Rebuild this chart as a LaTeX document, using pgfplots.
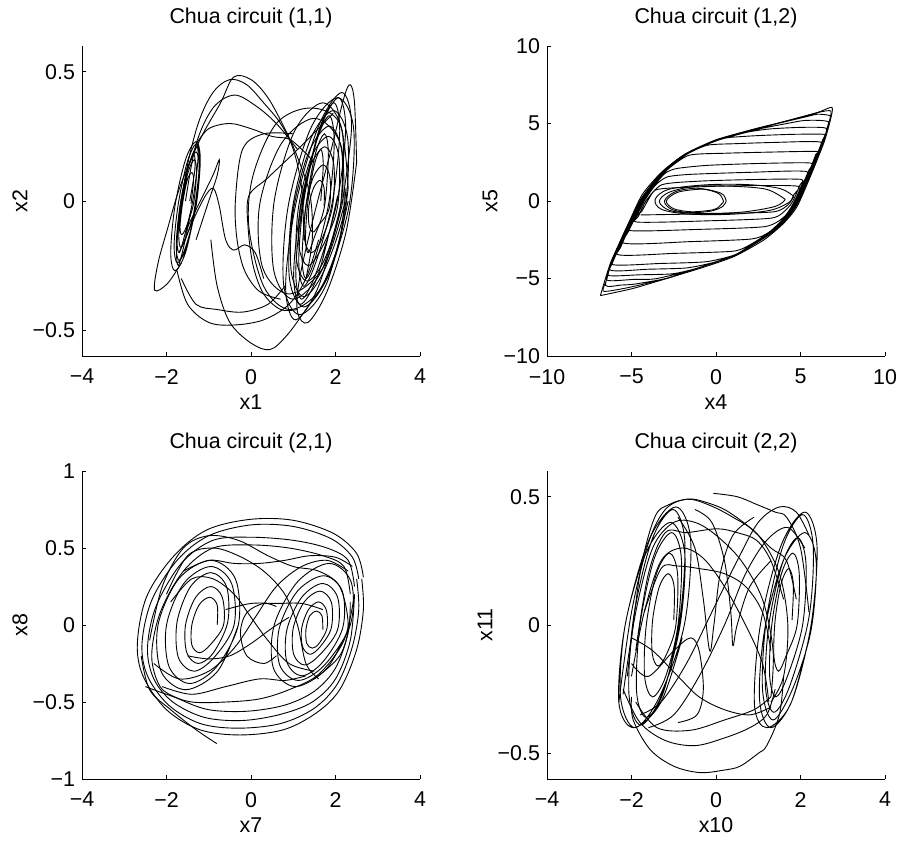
\documentclass[border=0pt]{standalone}
\usepackage{fontspec}
\setmainfont{Liberation Sans}
\usepackage{pgfplots}
\pgfplotsset{compat=1.18}
\newcommand{\fsz}{\fontsize{10.7}{12.8}\selectfont}

\pgfplotsset{
  chua/.style={
    scale only axis, width=169pt,
    axis x line*=bottom, axis y line*=left,
    axis line style={-, line width=0.4pt},
    tick align=inside, major tick length=1.8pt,
    tick style={black, line width=0.4pt},
    every axis title/.style={at={(0.5,1)}, anchor=center, yshift=14pt, font=\fsz},
    every axis x label/.style={at={(axis description cs:0.5,0)}, anchor=center, yshift=-23pt, font=\fsz},
    every axis y label/.style={at={(axis description cs:-0.1834,0.5)}, anchor=center, rotate=90, font=\fsz},
    ticklabel style={font=\fsz},
    x tick label style={yshift=-3pt},
  },
  traj/.style={black, line width=0.45pt, smooth, tension=0.55},
}

\begin{document}
\begin{tikzpicture}
\useasboundingbox (0,0) rectangle (448.5pt,421pt);

% ---------- (1,1)
\begin{axis}[chua, at={(41pt,243pt)}, anchor=south west, height=155pt,
  xmin=-4, xmax=4, ymin=-0.6, ymax=0.6,
  xtick={-4,-2,0,2,4}, xticklabels={−4,−2,0,2,4},
  ytick={-0.5,0,0.5}, yticklabels={−0.5,0,0.5},
  title={Chua circuit (1,1)}, xlabel={x1}, ylabel={x2}]
\addplot[traj] coordinates {(1.73,-0.02) (1.73,0.05) (1.63,0.08) (1.48,0.05) (1.37,-0.02) (1.37,-0.09) (1.47,-0.12) (1.62,-0.09)
 (1.85,-0.03) (1.87,0.09) (1.71,0.14) (1.47,0.09) (1.29,-0.03) (1.27,-0.15) (1.43,-0.20) (1.67,-0.15)
 (1.93,-0.02) (1.96,0.14) (1.75,0.21) (1.42,0.14) (1.17,-0.02) (1.14,-0.18) (1.35,-0.25) (1.68,-0.18)
 (2.04,-0.03) (2.08,0.17) (1.83,0.25) (1.43,0.17) (1.12,-0.03) (1.08,-0.23) (1.33,-0.31) (1.73,-0.23)
 (2.10,-0.04) (2.15,0.19) (1.85,0.29) (1.37,0.19) (1.00,-0.04) (0.95,-0.27) (1.25,-0.37) (1.73,-0.27)
 (2.22,-0.03) (2.29,0.24) (1.95,0.35) (1.41,0.24) (0.98,-0.03) (0.91,-0.30) (1.25,-0.41) (1.79,-0.30)
 (2.32,-0.02) (2.43,0.28) (2.05,0.40) (1.41,0.28) (0.88,-0.02) (0.77,-0.32) (1.15,-0.44) (1.79,-0.32) (2.3,0.0)};
\addplot[traj] coordinates {(1.65,0) (1.71,0.14) (1.65,0.2) (1.5,0.14) (1.35,0) (1.29,-0.14) (1.35,-0.2) (1.5,-0.14)
 (1.74,-0.02) (1.83,0.18) (1.74,0.26) (1.52,0.18) (1.30,-0.02) (1.21,-0.22) (1.30,-0.30) (1.52,-0.22)
 (1.85,0) (1.97,0.23) (1.85,0.33) (1.55,0.23) (1.25,0) (1.13,-0.23) (1.25,-0.33) (1.55,-0.23)
 (1.93,0) (2.10,0.27) (1.96,0.38) (1.60,0.27) (1.23,0) (1.06,-0.27) (1.20,-0.38) (1.56,-0.27)
 (2.04,0) (2.24,0.28) (2.07,0.40) (1.64,0.28) (1.20,0) (1.01,-0.28) (1.17,-0.40) (1.60,-0.28) (2.05,0.02)};
\addplot[traj] coordinates {(2.15,-0.02) (2.38,0.29) (2.15,0.42) (1.6,0.29) (1.05,-0.02) (0.82,-0.33) (1.05,-0.46) (1.6,-0.33) (2.15,-0.02)};
\addplot[traj] coordinates {(2.15,0) (2.16,0.27) (1.70,0.38) (1.03,0.27) (0.55,0) (0.54,-0.27) (1.0,-0.38) (1.67,-0.27) (2.15,0)};
\addplot[traj] coordinates {(2.2,-0.02) (2.12,0.22) (1.5,0.32) (0.71,0.22) (0.2,-0.02) (0.28,-0.26) (0.9,-0.36) (1.7,-0.26) (2.2,-0.02)};
\addplot[traj] coordinates {(2.3,0.05) (2.1,0.3) (1.4,0.36) (0.6,0.3) (0.05,0.1) (-0.05,-0.1) (0.3,-0.33) (0.9,-0.42) (1.6,-0.35) (2.1,-0.15) (2.3,0.05)};
\addplot[traj] coordinates {(2.5,0.15) (2.45,0.38) (2.35,0.45) (2.2,0.4) (1.9,0.2) (1.5,-0.05) (1.15,-0.3) (1.1,-0.43) (1.35,-0.47) (1.8,-0.35) (2.25,-0.12) (2.5,0.15)};
\addplot[traj] coordinates {(-1.42,-0.01) (-1.36,0.08) (-1.40,0.11) (-1.51,0.08) (-1.62,-0.01) (-1.68,-0.10) (-1.64,-0.13) (-1.53,-0.10)
 (-1.36,-0.01) (-1.29,0.11) (-1.34,0.16) (-1.49,0.11) (-1.64,-0.01) (-1.71,-0.13) (-1.66,-0.18) (-1.51,-0.13)
 (-1.32,-0.02) (-1.23,0.13) (-1.30,0.19) (-1.49,0.13) (-1.68,-0.02) (-1.77,-0.17) (-1.70,-0.23) (-1.51,-0.17)
 (-1.32,-0.01) (-1.22,0.15) (-1.30,0.22) (-1.51,0.15) (-1.72,-0.01) (-1.82,-0.17) (-1.74,-0.24) (-1.53,-0.17)
 (-1.30,-0.02) (-1.20,0.16) (-1.30,0.23) (-1.55,0.16) (-1.80,-0.02) (-1.90,-0.20) (-1.80,-0.27) (-1.55,-0.20) (-1.30,-0.02)};
\addplot[traj] coordinates {(-1.45,0.0) (-1.33,0.12) (-1.35,0.18) (-1.5,0.12) (-1.66,0.0) (-1.75,-0.14) (-1.7,-0.2) (-1.55,-0.12)
 (-1.38,0.0) (-1.26,0.15) (-1.28,0.21) (-1.45,0.15) (-1.65,0.0) (-1.76,-0.18) (-1.72,-0.25) (-1.57,-0.16) (-1.4,-0.02)};
\addplot[traj] coordinates {(-1.65,-0.24) (-1.98,-0.32) (-2.28,-0.345) (-2.2,-0.24) (-1.98,-0.11) (-1.67,0.06) (-1.2,0.24) (-0.72,0.38) (-0.41,0.48) (0.0,0.47) (0.4,0.40) (0.8,0.28) (1.1,0.17) (1.4,0.02) (1.45,-0.15) (1.3,-0.3)};
\addplot[traj] coordinates {(-1.75,-0.15) (-1.55,0.1) (-1.25,0.3) (-0.9,0.42) (-0.5,0.47) (-0.1,0.45) (0.3,0.38) (0.7,0.3) (1.0,0.2) (1.2,0.05) (1.25,-0.15)};
\addplot[traj] coordinates {(-1.3,0.22) (-1.0,0.28) (-0.5,0.30) (0.0,0.28) (0.5,0.25) (0.9,0.24) (1.2,0.2) (1.5,0.15)};
\addplot[traj] coordinates {(-1.55,0.0) (-1.3,0.22) (-0.9,0.36) (-0.4,0.41) (0.1,0.37) (0.6,0.3) (1.1,0.2)};
\addplot[traj] coordinates {(-1.75,-0.27) (-1.5,-0.4) (-1.0,-0.47) (-0.4,-0.48) (0.3,-0.46) (0.9,-0.4) (1.3,-0.3) (1.6,-0.15)};
\addplot[traj] coordinates {(-0.95,-0.15) (-0.8,-0.33) (-0.5,-0.47) (0.0,-0.55) (0.45,-0.575) (0.85,-0.52) (1.3,-0.42) (1.8,-0.3) (2.1,-0.15) (2.25,0.05)};
\addplot[traj] coordinates {(-1.65,-0.3) (-1.3,-0.4) (-0.8,-0.42) (-0.2,-0.43) (0.4,-0.4) (0.8,-0.33)};
\addplot[traj] coordinates {(-1.7,-0.2) (-1.3,-0.05) (-1.04,0.03) (-0.88,0.047) (-0.75,-0.02) (-0.6,-0.15) (-0.41,-0.19) (-0.15,-0.17) (0.1,-0.2) (0.3,-0.3)};
\addplot[traj] coordinates {(-1.5,-0.1) (-1.2,0.0) (-0.9,0.1) (-0.75,0.16) (-0.8,0.1) (-1.0,0.0) (-1.3,-0.15)};
\addplot[traj] coordinates {(1.95,0.34) (1.17,0.21) (0.4,0.09) (-0.05,0.02) (-0.07,-0.1) (0.05,-0.25) (0.3,-0.36) (0.7,-0.42) (1.1,-0.42)};
\addplot[traj] coordinates {(1.0,0.26) (0.3,0.26) (-0.2,0.2) (-0.37,0.0) (-0.33,-0.15) (-0.15,-0.27) (0.2,-0.35) (0.7,-0.38)};
\end{axis}

% ---------- (1,2)
\begin{axis}[chua, at={(273.5pt,243pt)}, anchor=south west, height=155pt,
  xmin=-10, xmax=10, ymin=-10, ymax=10,
  xtick={-10,-5,0,5,10}, xticklabels={−10,−5,0,5,10},
  ytick={-10,-5,0,5,10}, yticklabels={−10,−5,0,5,10},
  every axis y label/.append style={at={(axis description cs:-0.1686,0.5)}},
  title={Chua circuit (1,2)}, xlabel={x4}, ylabel={x5}]
\addplot[traj, tension=0.4] coordinates {
 (-4.46,-0.9) (-0.3,-0.82) (3.4,-0.7) (4.3,-0.2) (4.6,0.4) (4.85,0.95) (2.5,1.0) (0.0,0.95) (-2.5,0.85) (-3.6,0.7) (-4.05,0.0) (-4.35,-0.6)
 (-4.73,-1.35) (-0.5,-1.28) (3.3,-1.1) (4.2,-0.5) (4.55,0.0) (4.95,1.0) (5.0,1.4) (2.0,1.38) (-1.0,1.28) (-3.2,1.05) (-4.15,0.0) (-4.6,-1.0)
 (-5.15,-1.9) (-1.0,-1.83) (2.9,-1.65) (4.05,-1.0) (4.65,0.0) (5.05,1.0) (5.35,1.9) (2.0,1.85) (-1.5,1.72) (-2.9,1.55) (-3.6,1.0) (-4.25,0.0) (-4.7,-1.0)
 (-5.5,-2.7) (-1.5,-2.62) (2.1,-2.45) (3.15,-2.0) (4.1,-1.0) (4.7,0.0) (5.1,1.0) (5.5,2.0) (5.6,2.45) (2.5,2.42) (-0.5,2.3) (-2.3,2.1) (-3.0,1.8) (-3.65,1.0) (-4.3,0.0) (-4.75,-1.0) (-5.2,-2.0)
 (-5.83,-3.45) (-2.5,-3.38) (0.9,-3.25) (1.8,-2.95) (3.2,-2.0) (4.15,-1.0) (4.75,0.0) (5.15,1.0) (5.55,2.0) (5.9,3.0) (5.95,3.2) (3.0,3.15) (0.5,3.08) (-1.6,2.95) (-2.9,2.0) (-3.7,1.0) (-4.35,0.0) (-4.8,-1.0) (-5.25,-2.0) (-5.65,-3.0)
 (-6.13,-4.1) (-3.3,-4.03) (-0.6,-3.92) (1.05,-3.5) (1.85,-3.0) (3.25,-2.0) (4.2,-1.0) (4.8,0.0) (5.2,1.0) (5.6,2.0) (5.95,3.0) (6.2,3.8) (3.5,3.78) (1.2,3.7) (-0.5,3.6) (-1.75,3.0) (-2.95,2.0) (-3.75,1.0) (-4.4,0.0) (-4.85,-1.0) (-5.3,-2.0) (-5.7,-3.0)
 (-6.27,-4.45) (-4.0,-4.4) (-1.75,-4.32) (-0.2,-3.98) (1.08,-3.5) (1.88,-3.0) (3.28,-2.0) (4.23,-1.0) (4.83,0.0) (5.23,1.0) (5.63,2.0) (5.98,3.0) (6.33,4.0) (6.4,4.3) (4.5,4.3) (2.5,4.22) (0.8,4.1) (0.2,3.95) (-0.88,3.5) (-1.78,3.0) (-2.98,2.0) (-3.78,1.0) (-4.43,0.0) (-4.88,-1.0) (-5.33,-2.0) (-5.73,-3.0) (-6.13,-4.0)
 (-6.36,-4.8) (-4.5,-4.76) (-2.6,-4.7) (-1.4,-4.42) (-0.1,-3.98) (1.1,-3.5) (1.9,-3.0) (3.3,-2.0) (4.25,-1.0) (4.85,0.0) (5.25,1.0) (5.65,2.0) (6.0,3.0) (6.35,4.0) (6.5,4.7) (5.0,4.75) (3.2,4.65) (1.9,4.45) (0.2,3.95) (-0.9,3.5) (-1.8,3.0) (-3.0,2.0) (-3.8,1.0) (-4.45,0.0) (-4.9,-1.0) (-5.35,-2.0) (-5.75,-3.0) (-6.15,-4.0)
 (-6.46,-5.1) (-4.9,-5.06) (-3.6,-5.02) (-1.57,-4.5) (-0.17,-4.0) (1.13,-3.5) (1.93,-3.0) (3.33,-2.0) (4.28,-1.0) (4.88,0.0) (5.28,1.0) (5.68,2.0) (6.03,3.0) (6.38,4.0) (6.65,5.1) (5.3,5.2) (4.2,5.0) (1.87,4.5) (0.17,4.0) (-0.93,3.5) (-1.83,3.0) (-3.03,2.0) (-3.83,1.0) (-4.48,0.0) (-4.93,-1.0) (-5.38,-2.0) (-5.78,-3.0) (-6.18,-4.0)
 (-6.53,-5.45) (-5.6,-5.42) (-4.8,-5.36) (-2.95,-5.0) (-1.55,-4.5) (-0.15,-4.0) (1.15,-3.5) (1.95,-3.0) (3.35,-2.0) (4.3,-1.0) (4.9,0.0) (5.3,1.0) (5.7,2.0) (6.05,3.0) (6.4,4.0) (6.65,5.0) (6.75,5.5) (6.0,5.6) (5.4,5.45) (3.65,5.0) (1.85,4.5) (0.15,4.0) (-0.95,3.5) (-1.85,3.0) (-3.05,2.0) (-3.85,1.0) (-4.5,0.0) (-4.95,-1.0) (-5.4,-2.0) (-5.8,-3.0) (-6.2,-4.0) (-6.45,-5.0)
 (-6.69,-5.8) (-6.0,-5.75) (-4.83,-5.5) (-2.93,-5.0) (-1.53,-4.5) (-0.13,-4.0) (1.17,-3.5) (1.97,-3.0) (3.37,-2.0) (4.32,-1.0) (4.92,0.0) (5.32,1.0) (5.72,2.0) (6.07,3.0) (6.42,4.0) (6.67,5.0) (6.8,5.8) (6.2,5.75) (5.33,5.5) (3.63,5.0) (1.83,4.5) (0.13,4.0) (-0.97,3.5) (-1.87,3.0) (-3.07,2.0) (-3.87,1.0) (-4.52,0.0) (-4.97,-1.0) (-5.42,-2.0) (-5.82,-3.0) (-6.22,-4.0) (-6.47,-5.0)};
\addplot[traj, tension=0.4] coordinates {(-6.84,-6.1) (-6.65,-6.06) (-4.87,-5.63) (-2.9,-4.99) (-0.93,-4.34) (1.05,-3.59) (2.82,-2.52) (4.0,-1.44) (4.79,-0.37) (5.58,1.57) (6.37,3.72) (6.77,5.23) (6.86,6.04) (5.98,5.7) (4.0,5.12) (2.03,4.58) (0.06,3.94) (-1.91,2.97) (-3.29,1.78) (-4.38,0.39) (-5.27,-1.66) (-6.25,-4.02) (-6.84,-6.1)};
\addplot[traj] coordinates {(0.45,-0.04) (0.2,0.45) (-0.5,0.72) (-1.12,0.75) (-2.3,0.55) (-2.94,0.0) (-2.5,-0.5) (-1.5,-0.69) (-0.5,-0.62) (0.06,-0.47) (0.45,-0.04)};
\addplot[traj] coordinates {(0.6,0.0) (0.3,0.5) (-1.1,0.82) (-2.4,0.6) (-3.05,0.0) (-2.6,-0.55) (-1.5,-0.75) (-0.3,-0.65) (0.4,-0.35) (0.6,0.0)};
\addplot[traj] coordinates {(4.1,0.1) (3.0,0.75) (1.0,0.95) (-1.2,0.95) (-2.8,0.55) (-3.35,-0.05) (-2.7,-0.62) (-1.0,-0.8) (1.5,-0.72) (3.5,-0.35) (4.1,0.1)};
\addplot[traj] coordinates {(4.6,0.3) (3.8,0.8) (2.0,1.05) (-0.5,1.05) (-2.8,0.75) (-3.6,0.1) (-3.2,-0.55) (-1.5,-0.85) (1.0,-0.85) (3.2,-0.6) (4.3,-0.1) (4.6,0.3)};
\end{axis}

% ---------- (2,1)
\begin{axis}[chua, at={(41pt,31.5pt)}, anchor=south west, height=154pt,
  xmin=-4, xmax=4, ymin=-1, ymax=1,
  xtick={-4,-2,0,2,4}, xticklabels={−4,−2,0,2,4},
  ytick={-1,-0.5,0,0.5,1}, yticklabels={−1,−0.5,0,0.5,1},
  title={Chua circuit (2,1)}, xlabel={x7}, ylabel={x8}]
\addplot[traj] coordinates {(2.66,0.31) (2.5,0.465) (1.95,0.595) (1.0,0.68) (-0.02,0.686) (-1.05,0.617) (-1.84,0.444) (-2.47,0.184) (-2.69,-0.12) (-2.55,-0.335) (-2.0,-0.55) (-1.21,-0.68) (-0.26,-0.714) (0.77,-0.68) (1.55,-0.57) (2.1,-0.42) (2.5,-0.16) (2.66,0.1) (2.62,0.3)};
\addplot[traj] coordinates {(2.55,0.3) (2.4,0.44) (1.9,0.56) (1.0,0.64) (0.0,0.65) (-1.0,0.58) (-1.75,0.42) (-2.35,0.16) (-2.58,-0.12) (-2.45,-0.33) (-1.95,-0.52) (-1.2,-0.64) (-0.3,-0.67) (0.7,-0.64) (1.5,-0.54) (2.05,-0.38) (2.4,-0.14) (2.55,0.1) (2.5,0.3)};
\addplot[traj] coordinates {(2.45,0.25) (2.3,0.42) (1.8,0.5) (1.0,0.55) (0.0,0.57) (-0.9,0.55) (-1.65,0.4) (-2.25,0.12) (-2.45,-0.15) (-2.3,-0.35) (-1.85,-0.5) (-1.1,-0.6) (-0.2,-0.62) (0.7,-0.58) (1.45,-0.5) (2.0,-0.35) (2.35,-0.1) (2.45,0.2)};
\addplot[traj] coordinates {(2.35,0.2) (2.2,0.38) (1.7,0.45) (0.9,0.5) (0.0,0.52) (-0.9,0.5) (-1.6,0.35) (-2.15,0.08) (-2.35,-0.2) (-2.15,-0.4) (-1.7,-0.48) (-1.0,-0.55) (-0.1,-0.56) (0.8,-0.52) (1.5,-0.43) (2.0,-0.28) (2.3,-0.05) (2.35,0.15)};
\addplot[traj] coordinates {(-0.8,0) (-0.80,0.13) (-0.98,0.18) (-1.23,0.13) (-1.4,0) (-1.40,-0.13) (-1.22,-0.18) (-0.97,-0.13)
 (-0.65,0) (-0.68,0.18) (-0.95,0.25) (-1.31,0.18) (-1.55,0) (-1.52,-0.18) (-1.25,-0.25) (-0.89,-0.18)
 (-0.55,0.02) (-0.58,0.25) (-0.95,0.34) (-1.43,0.25) (-1.75,0.02) (-1.72,-0.21) (-1.35,-0.30) (-0.87,-0.21)
 (-0.4,0) (-0.46,0.27) (-0.95,0.38) (-1.59,0.27) (-2.0,0) (-1.94,-0.27) (-1.45,-0.38) (-0.81,-0.27)
 (-0.3,0) (-0.37,0.30) (-0.95,0.42) (-1.71,0.30) (-2.2,0) (-2.13,-0.30) (-1.55,-0.42) (-0.79,-0.30) (-0.3,0)};
\addplot[traj] coordinates {(1.7,-0.03) (1.68,0.06) (1.55,0.09) (1.39,0.06) (1.3,-0.03) (1.32,-0.12) (1.45,-0.15) (1.61,-0.12)
 (1.8,-0.02) (1.78,0.10) (1.6,0.15) (1.36,0.10) (1.2,-0.02) (1.22,-0.14) (1.4,-0.19) (1.64,-0.14)
 (1.9,-0.02) (1.90,0.15) (1.63,0.22) (1.26,0.15) (1.0,-0.02) (1.01,-0.19) (1.27,-0.26) (1.64,-0.19)
 (2.05,-0.03) (2.05,0.18) (1.7,0.27) (1.20,0.18) (0.85,-0.03) (0.85,-0.24) (1.2,-0.33) (1.70,-0.24)
 (2.17,-0.02) (2.16,0.22) (1.72,0.32) (1.10,0.22) (0.67,-0.02) (0.68,-0.26) (1.12,-0.36) (1.74,-0.26)
 (2.35,0) (2.37,0.28) (1.85,0.40) (1.10,0.28) (0.55,0) (0.53,-0.28) (1.05,-0.40) (1.80,-0.28) (2.35,0)};
\addplot[traj] coordinates {(-2.0,0.2) (-1.5,0.45) (-0.9,0.5) (-0.3,0.45) (0.3,0.35) (0.8,0.2) (1.1,0.0) (1.3,-0.25) (1.6,-0.35)};
\addplot[traj] coordinates {(-1.6,0.35) (-1.0,0.42) (-0.4,0.4) (0.2,0.4) (0.8,0.42) (1.4,0.45) (2.0,0.44) (2.4,0.38)};
\addplot[traj] coordinates {(-2.3,-0.25) (-1.7,-0.35) (-1.0,-0.3) (-0.4,-0.15) (0.1,0.05) (0.6,0.25) (1.2,0.38) (1.8,0.42) (2.3,0.35)};
\addplot[traj] coordinates {(-2.1,-0.4) (-1.4,-0.45) (-0.6,-0.4) (0.2,-0.35) (0.8,-0.36) (1.3,-0.33)};
\addplot[traj] coordinates {(-0.6,0.1) (0.0,0.14) (0.6,0.14) (1.2,0.14) (1.7,0.1)};
\addplot[traj] coordinates {(0.6,0.12) (0.3,0.14) (-0.1,0.08) (-0.25,-0.05) (-0.1,-0.2) (0.3,-0.25) (0.6,-0.2)};
\addplot[traj] coordinates {(-2.6,-0.2) (-2.4,-0.42) (-1.9,-0.55) (-1.3,-0.68) (-0.81,-0.77)};
\addplot[traj] coordinates {(-2.4,-0.1) (-2.1,0.25) (-1.6,0.5) (-1.0,0.58) (-0.3,0.55) (0.4,0.45) (1.0,0.38) (1.6,0.35) (2.1,0.25) (2.3,0.0) (2.1,-0.2) (1.5,-0.35)};
\addplot[traj] coordinates {(-2.5,-0.4) (-2.0,-0.45) (-1.4,-0.5) (-0.6,-0.5) (0.2,-0.48) (0.9,-0.42) (1.6,-0.32) (2.2,-0.1) (2.45,0.2)};
\addplot[traj] coordinates {(-1.9,0.15) (-1.4,0.3) (-0.9,0.3) (-0.4,0.2) (0.0,0.05) (0.4,-0.1) (0.9,-0.25) (1.5,-0.3)};
\addplot[traj] coordinates {(-1.5,-0.2) (-1.0,-0.22) (-0.5,-0.2) (0.0,-0.12) (0.5,-0.02) (0.9,0.05)};
\end{axis}

% ---------- (2,2)
\begin{axis}[chua, at={(273.5pt,31.5pt)}, anchor=south west, height=154pt,
  xmin=-4, xmax=4, ymin=-0.6, ymax=0.6,
  xtick={-4,-2,0,2,4}, xticklabels={−4,−2,0,2,4},
  ytick={-0.5,0,0.5}, yticklabels={−0.5,0,0.5},
  title={Chua circuit (2,2)}, xlabel={x10}, ylabel={x11}]
\addplot[traj] coordinates {(-1.0,0.02) (-0.99,0.15) (-1.13,0.20) (-1.34,0.15) (-1.5,0.02) (-1.51,-0.11) (-1.37,-0.16) (-1.16,-0.11)
 (-0.95,0) (-0.91,0.20) (-1.1,0.28) (-1.41,0.20) (-1.65,0) (-1.69,-0.20) (-1.5,-0.28) (-1.19,-0.20)
 (-0.9,0) (-0.82,0.26) (-1.05,0.36) (-1.46,0.26) (-1.8,0) (-1.88,-0.26) (-1.65,-0.36) (-1.24,-0.26)
 (-0.85,0.03) (-0.74,0.33) (-1.02,0.45) (-1.52,0.33) (-1.95,0.03) (-2.06,-0.27) (-1.78,-0.39) (-1.28,-0.27)
 (-0.85,0) (-0.74,0.28) (-1.08,0.40) (-1.66,0.28) (-2.15,0) (-2.26,-0.28) (-1.92,-0.40) (-1.34,-0.28)
 (-0.75,0) (-0.60,0.33) (-0.95,0.46) (-1.59,0.33) (-2.15,0) (-2.30,-0.3) (-1.95,-0.40) (-1.3,-0.3) (-0.8,-0.05)};
\addplot[traj] coordinates {(1.8,0.02) (1.83,0.16) (1.72,0.22) (1.54,0.16) (1.4,0.02) (1.37,-0.12) (1.48,-0.18) (1.66,-0.12)
 (1.92,0) (1.97,0.20) (1.82,0.28) (1.55,0.20) (1.32,0) (1.27,-0.20) (1.42,-0.28) (1.69,-0.20)
 (2.05,0) (2.13,0.24) (1.93,0.34) (1.57,0.24) (1.25,0) (1.17,-0.24) (1.37,-0.34) (1.74,-0.24)
 (2.2,0.03) (2.30,0.31) (2.05,0.43) (1.59,0.31) (1.2,0.03) (1.10,-0.25) (1.35,-0.37) (1.81,-0.25)
 (2.25,-0.02) (2.37,0.25) (2.1,0.36) (1.59,0.25) (1.15,-0.02) (1.03,-0.29) (1.3,-0.40) (1.81,-0.29)
 (2.25,0) (2.39,0.31) (2.1,0.44) (1.54,0.31) (1.05,0) (0.91,-0.31) (1.2,-0.40) (1.76,-0.31) (2.2,-0.05)};
\addplot[traj] coordinates {(-0.06,0.513) (0.5,0.5) (0.96,0.47) (1.4,0.44) (1.67,0.42) (2.0,0.3) (2.2,0.05)};
\addplot[traj] coordinates {(-2.1,-0.2) (-1.8,0.2) (-1.45,0.42) (-1.1,0.47) (-0.7,0.49) (-0.38,0.485) (0.2,0.45) (0.8,0.38) (1.3,0.3) (1.67,0.25) (1.9,0.1)};
\addplot[traj] coordinates {(-1.9,-0.1) (-1.6,0.2) (-1.2,0.36) (-0.69,0.36) (0.02,0.375) (0.5,0.36) (0.96,0.33) (1.3,0.25) (1.6,0.1)};
\addplot[traj] coordinates {(-1.7,0.05) (-1.3,0.22) (-0.92,0.23) (-0.4,0.22) (0.2,0.2) (0.7,0.15) (1.1,0.05) (1.3,-0.1)};
\addplot[traj] coordinates {(-2.3,-0.3) (-2.0,0.05) (-1.6,0.32) (-1.2,0.45) (-0.7,0.49) (-0.2,0.47) (0.4,0.42) (1.0,0.35) (1.5,0.2) (1.7,0.0) (1.6,-0.2) (1.3,-0.3)};
\addplot[traj] coordinates {(-2.2,-0.27) (-1.9,0.05) (-1.5,0.3) (-1.0,0.4) (-0.5,0.4) (0.0,0.35) (0.6,0.25) (1.1,0.1) (1.35,-0.1) (1.3,-0.28)};
\addplot[traj] coordinates {(-2.0,-0.2) (-1.7,0.05) (-1.3,0.25) (-0.8,0.3) (-0.3,0.26) (0.2,0.15) (0.7,0.0) (1.1,-0.15) (1.25,-0.3)};
\addplot[traj] coordinates {(-1.8,-0.35) (-1.3,-0.3) (-0.7,-0.15) (-0.1,0.05) (0.5,0.25) (1.0,0.4) (1.5,0.46) (1.9,0.44) (2.2,0.35)};
\addplot[traj] coordinates {(-1.6,-0.4) (-1.0,-0.35) (-0.4,-0.2) (0.2,0.0) (0.7,0.2) (1.2,0.33) (1.7,0.38) (2.1,0.3)};
\addplot[traj] coordinates {(-0.9,0.42) (-0.5,0.3) (-0.3,0.1) (-0.15,-0.1) (-0.05,0.0) (0.1,0.2) (0.4,0.35) (0.9,0.42)};
\addplot[traj] coordinates {(1.3,0.25) (0.8,0.15) (0.5,0.0) (0.4,-0.08) (0.35,0.05) (0.2,0.25) (-0.1,0.4) (-0.5,0.45)};
\addplot[traj] coordinates {(-2.0,-0.15) (-1.6,-0.2) (-1.0,-0.1) (-0.6,-0.05) (-0.4,-0.1) (-0.3,-0.25) (-0.45,-0.35) (-0.9,-0.38)};
\addplot[traj] coordinates {(-2.0,-0.28) (-1.96,-0.37) (-1.56,-0.485) (-1.0,-0.55) (-0.38,-0.575) (0.2,-0.565) (0.57,-0.55) (1.0,-0.5) (1.2,-0.47) (1.5,-0.35) (1.6,-0.2)};
\addplot[traj] coordinates {(-2.2,-0.25) (-1.8,-0.38) (-1.2,-0.45) (-0.5,-0.47) (0.2,-0.44) (0.8,-0.4) (1.2,-0.35) (1.4,-0.25)};
\addplot[traj] coordinates {(-1.9,-0.3) (-1.4,-0.4) (-0.6,-0.41) (0.2,-0.37) (0.9,-0.33) (1.3,-0.28)};
\addplot[traj] coordinates {(-2.0,-0.05) (-1.5,-0.1) (-0.9,-0.2) (-0.4,-0.28) (0.2,-0.33) (0.8,-0.35) (1.3,-0.32)};
\end{axis}
\end{tikzpicture}
\end{document}
